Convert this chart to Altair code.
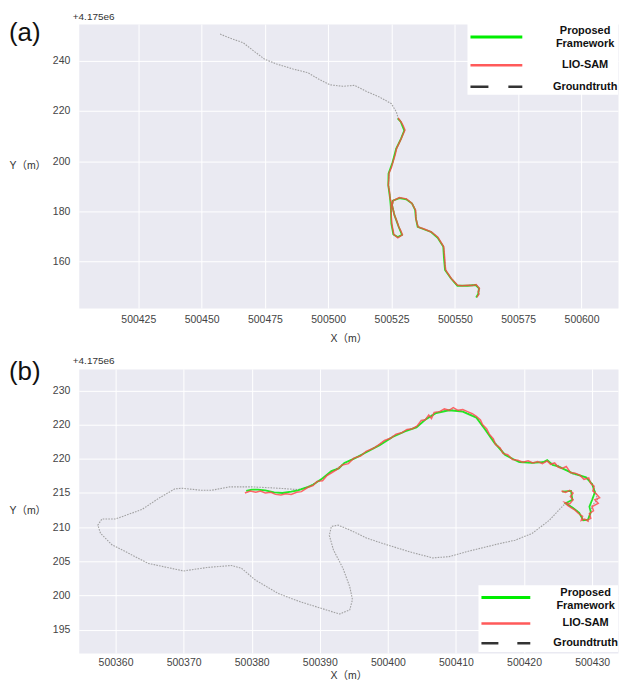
import altair as alt
import pandas as pd

# ---------------- data: panel (a) ----------------
A_X_DOMAIN = [500401.5, 500614.4]
A_Y_DOMAIN = [141.5, 254.6]
A_X_TICKS = [500425, 500450, 500475, 500500, 500525, 500550, 500575, 500600]
A_Y_TICKS = [160, 180, 200, 220, 240]

a_gt_x = [500457.3, 500461.2, 500466.5, 500470.4, 500475.0, 500479.6, 500486.1, 500492.0,
          500496.0, 500500.6, 500505.8, 500510.4, 500515.0, 500520.3, 500524.9, 500526.9,
          500527.6, 500528.8, 500530.1, 500528.8, 500526.9, 500525.5, 500523.9, 500523.8,
          500524.5, 500524.8, 500525.0, 500525.8, 500527.5, 500529.2, 500527.9, 500526.2,
          500525.3, 500525.6, 500528.1, 500530.8, 500533.1, 500534.4, 500534.7, 500535.4,
          500538.0, 500540.6, 500543.2, 500545.5, 500545.9, 500546.3, 500548.5, 500551.1,
          500555.0, 500558.3, 500559.6, 500559.4, 500558.6]
a_gt_y = [250.6, 249.0, 247.1, 244.0, 240.5, 238.7, 236.7, 235.2,
          232.8, 230.4, 229.8, 230.2, 227.8, 225.5, 222.9, 219.6,
          217.2, 215.6, 212.3, 209.0, 205.0, 199.7, 195.1, 190.5,
          185.2, 181.9, 175.2, 170.9, 169.6, 170.6, 173.9, 178.6,
          182.5, 184.2, 185.4, 184.9, 183.2, 180.6, 177.2, 173.9,
          172.9, 171.9, 169.6, 166.0, 161.3, 156.7, 153.4, 150.5,
          150.5, 150.8, 149.4, 147.1, 145.8]

a_prop_x = [500527.4, 500528.6, 500530.0, 500528.7, 500526.8, 500525.4, 500523.8, 500523.7,
            500524.4, 500524.7, 500524.9, 500525.7, 500527.5, 500529.1, 500527.8, 500526.1,
            500525.2, 500525.5, 500528.1, 500530.8, 500533.1, 500534.3, 500534.6, 500535.3,
            500538.0, 500540.6, 500543.2, 500545.4, 500545.7, 500546.1, 500548.4, 500551.0,
            500555.0, 500558.2, 500559.5, 500559.2, 500558.4]
a_prop_y = [217.0, 215.7, 212.2, 208.9, 204.9, 199.6, 195.0, 190.4,
            185.2, 181.9, 175.2, 170.8, 169.8, 170.7, 173.9, 178.6,
            182.5, 184.3, 185.3, 184.8, 183.1, 180.6, 177.2, 173.9,
            172.8, 171.8, 169.5, 166.0, 161.3, 156.7, 153.4, 150.4,
            150.4, 150.7, 149.4, 147.1, 145.7]

a_lio_x = [500527.6, 500528.3, 500528.9, 500529.6, 500530.3, 500529.6, 500528.9, 500528.0,
           500527.0, 500526.4, 500525.6, 500525.0, 500524.0, 500523.9, 500523.7, 500524.2,
           500524.4, 500524.9, 500524.8, 500524.9, 500525.1, 500525.5, 500525.9, 500527.5,
           500529.3, 500528.7, 500527.8, 500527.0, 500526.1, 500525.2, 500525.7, 500528.1,
           500530.9, 500533.0, 500534.5, 500534.6, 500535.5, 500537.9, 500540.7, 500543.3,
           500545.6, 500545.8, 500546.0, 500546.1, 500546.4, 500548.6, 500551.1, 500552.8,
           500555.0, 500557.0, 500558.4, 500559.7, 500559.2, 500559.5, 500558.7]
a_lio_y = [217.2, 216.2, 215.4, 214.1, 212.4, 210.8, 209.1, 207.2,
           205.1, 202.4, 199.8, 197.6, 195.2, 192.8, 190.4, 187.9,
           185.3, 183.6, 181.8, 178.5, 175.1, 172.9, 170.8, 169.5,
           170.7, 172.2, 174.0, 176.4, 178.7, 182.5, 184.3, 185.5,
           185.0, 183.3, 180.5, 177.1, 173.8, 173.0, 171.8, 169.7,
           165.9, 163.5, 161.2, 158.9, 156.6, 153.3, 150.6, 150.4,
           150.6, 150.5, 150.9, 149.3, 148.0, 147.1, 145.9]

# ---------------- data: panel (b) ----------------
B_X_DOMAIN = [500354.6, 500433.8]
B_Y_DOMAIN = [191.6, 233.15]
B_X_TICKS = [500360, 500370, 500380, 500390, 500400, 500410, 500420, 500430]
B_Y_TICKS = [195, 200, 205, 210, 215, 220, 225, 230]

b_gt_x = [500388.3, 500390.2, 500391.7, 500393.6, 500396.9, 500400.7, 500404.2, 500405.6,
          500407.1, 500409.0, 500411.0, 500413.0, 500414.4, 500415.9, 500417.3, 500419.3,
          500421.2, 500423.4, 500424.9, 500427.1, 500429.1, 500430.0, 500430.5, 500430.8,
          500430.0, 500429.8, 500429.4, 500428.7, 500428.1, 500427.1, 500426.1,
          500425.2, 500423.7, 500421.2, 500418.7, 500416.4, 500411.5, 500409.0, 500406.6,
          500403.2, 500399.3, 500396.9, 500394.4, 500392.7, 500391.7, 500391.4, 500392.0,
          500393.4, 500394.4, 500394.8, 500394.4, 500392.9, 500390.0, 500387.1, 500383.9,
          500380.5, 500378.5, 500377.0, 500373.4, 500370.0, 500364.8, 500361.9, 500359.5,
          500357.8, 500357.4, 500358.0, 500360.0, 500363.9, 500366.3, 500368.7, 500369.7,
          500372.6, 500374.1, 500376.8, 500380.0, 500383.9, 500386.8, 500388.3]
b_gt_y = [215.9, 216.9, 218.1, 219.3, 221.0, 223.3, 224.7, 225.9,
          226.8, 227.2, 227.0, 226.1, 224.2, 222.2, 220.5, 219.6,
          219.4, 219.6, 219.1, 217.8, 217.3, 216.4, 215.1, 214.0,
          213.2, 212.2, 211.1, 211.0, 212.1, 212.9, 213.5,
          212.6, 211.0, 209.1, 208.1, 207.6, 206.4, 205.7, 205.5,
          206.4, 207.6, 208.4, 209.6, 210.3, 210.1, 208.8, 206.7,
          204.0, 201.3, 199.4, 197.9, 197.3, 198.2, 199.1, 200.3,
          202.3, 204.0, 204.4, 204.1, 203.6, 204.7, 206.2, 207.4,
          209.1, 210.3, 211.2, 211.2, 212.6, 214.2, 215.6, 215.7,
          215.4, 215.4, 215.9, 215.9, 215.7, 215.5, 215.9]

b_prop_x = [500379.2, 500380.0, 500380.9, 500382.0, 500383.3, 500384.5, 500385.8, 500386.8,
            500388.3, 500389.0, 500390.2, 500391.7, 500392.8, 500393.6, 500395.2, 500396.9,
            500398.8, 500400.7, 500402.5, 500404.2, 500405.6, 500407.1, 500409.0, 500411.0,
            500413.0, 500414.2, 500415.6, 500417.2, 500418.3, 500419.3, 500421.2, 500422.8,
            500423.4, 500424.2, 500425.0, 500427.1, 500429.1, 500430.0, 500430.4, 500430.0,
            500429.6, 500429.8, 500429.4, 500428.7, 500428.1, 500427.1, 500426.1, 500427.1,
            500426.9, 500425.6]
b_prop_y = [215.3, 215.5, 215.5, 215.4, 215.1, 215.0, 215.2, 215.4,
            215.9, 216.2, 217.0, 218.2, 218.6, 219.4, 220.1, 221.0,
            222.0, 223.2, 224.0, 224.6, 225.8, 226.7, 227.1, 226.9,
            226.0, 224.4, 222.4, 220.6, 220.0, 219.5, 219.4, 219.5,
            219.8, 219.1, 218.9, 217.9, 217.3, 216.3, 215.1, 214.0,
            213.0, 212.2, 211.1, 211.0, 212.1, 212.9, 213.5, 214.0,
            215.3, 215.2]

b_lio_x = [500379.0, 500379.8, 500380.6, 500381.3, 500382.0, 500382.8, 500383.5, 500384.3,
           500385.0, 500385.8, 500386.6, 500387.3, 500388.2, 500389.0, 500389.6, 500390.4,
           500391.0, 500391.8, 500392.5, 500393.3, 500394.2, 500395.0, 500396.0, 500396.8,
           500397.8, 500398.6, 500399.5, 500400.4, 500401.2, 500402.0, 500402.8, 500403.6,
           500404.3, 500404.9, 500405.5, 500406.0, 500406.4, 500406.8, 500407.6, 500408.3,
           500409.0, 500409.6, 500410.3, 500411.0, 500411.7, 500412.4, 500413.0, 500413.6,
           500413.9, 500414.5, 500414.9, 500415.5, 500415.8, 500416.5, 500416.9, 500417.6,
           500418.3, 500419.1, 500419.8, 500420.6, 500421.3, 500422.0, 500422.7, 500423.4,
           500423.9, 500424.5, 500425.0, 500425.6, 500426.2, 500426.8, 500427.5, 500428.2,
           500428.8, 500429.5, 500429.8, 500430.3, 500430.1, 500430.6, 500431.1, 500430.4,
           500430.9, 500430.0, 500430.2, 500429.6, 500429.8, 500429.2, 500429.5, 500428.9,
           500428.4, 500428.6, 500428.0, 500427.5, 500427.0, 500426.4, 500426.0, 500426.7,
           500427.2, 500426.8, 500427.2, 500426.7, 500426.1, 500425.5]
b_lio_y = [215.0, 215.3, 215.1, 215.3, 215.0, 215.1, 214.8, 214.7,
           214.9, 214.8, 215.1, 215.2, 215.8, 216.1, 216.7, 216.8,
           217.5, 218.0, 218.4, 219.1, 219.3, 220.1, 220.4, 221.1,
           221.5, 222.0, 222.7, 223.0, 223.6, 223.8, 224.3, 224.4,
           224.8, 225.6, 225.7, 226.4, 225.9, 226.8, 226.9, 227.3,
           227.1, 227.5, 227.1, 227.2, 226.9, 226.6, 226.2, 225.7,
           225.0, 224.4, 223.6, 222.9, 222.1, 221.6, 220.8, 220.6,
           219.9, 219.8, 219.5, 219.7, 219.4, 219.6, 219.3, 219.7,
           219.2, 219.4, 218.8, 218.6, 218.9, 218.0, 217.9, 217.6,
           217.0, 217.2, 216.4, 216.0, 215.3, 214.9, 214.3, 214.0,
           213.5, 213.0, 212.4, 212.0, 211.3, 211.0, 210.8, 211.2,
           211.0, 211.6, 212.0, 212.5, 212.8, 213.2, 213.6, 213.4,
           214.0, 214.5, 215.0, 215.4, 215.1, 215.3]

LEGEND_LABELS = ["Proposed", "Framework", "LIO-SAM", "Groundtruth"]
OFFSET_TEXT = "+4.175e6"
X_TITLE = "X（m）"
Y_TITLE = "Y（m）"

# ---------------- styling ----------------
W, H = 541, 285
FONT = "Liberation Sans"
TITLE_FONT = "Liberation Sans, Noto Sans CJK SC"
GREEN = "#19e619"
RED = "#ff4545"
GT_COLOR = "#999999"
ONE = pd.DataFrame({"k": [0]})


def panel(tag, xdom, ydom, xticks, yticks, gt, prop, lio, leg, y_label_expr=None,
          x_label_pad=6, x_title_pad=9):
    yaxis_kw = dict(values=yticks, title=Y_TITLE, titleAngle=0, titleAlign="left",
                    titleBaseline="middle", titleX=-70, titleY=142, labelPadding=9)
    if y_label_expr:
        yaxis_kw["labelExpr"] = y_label_expr
    xenc = alt.X("x:Q", scale=alt.Scale(domain=xdom, nice=False, zero=False),
                 axis=alt.Axis(values=xticks, format="d", title=X_TITLE,
                               labelPadding=x_label_pad, titlePadding=x_title_pad,
                               labelFlush=False))
    yenc = alt.Y("y:Q", scale=alt.Scale(domain=ydom, nice=False, zero=False),
                 axis=alt.Axis(**yaxis_kw))

    def line(xs, ys, color, width, opacity=1.0, dash=None):
        df = pd.DataFrame({"x": xs, "y": ys, "i": list(range(len(xs)))})
        kw = dict(color=color, strokeWidth=width, opacity=opacity, clip=True)
        if dash:
            kw["strokeDash"] = dash
        return alt.Chart(df).mark_line(**kw).encode(x=xenc, y=yenc, order="i:Q")

    layers = [
        line(gt[0], gt[1], GT_COLOR, 1.1, 0.9, [1.6, 1.2]),
        line(prop[0], prop[1], GREEN, 1.8, 0.95),
        line(lio[0], lio[1], RED, 1.5, 0.8),
    ]
    # custom legend box
    bx0, by0, by1, lx0, lx1, tx, ys = leg
    layers.append(alt.Chart(ONE).mark_rect(color="white").encode(
        x=alt.value(bx0), x2=alt.value(W), y=alt.value(by0), y2=alt.value(by1)))
    layers.append(alt.Chart(ONE).mark_rule(color="#00ee00", strokeWidth=3).encode(
        x=alt.value(lx0), x2=alt.value(lx1), y=alt.value(ys[1])))
    layers.append(alt.Chart(ONE).mark_rule(color="#ff5a5a", strokeWidth=2.5).encode(
        x=alt.value(lx0), x2=alt.value(lx1), y=alt.value(ys[2])))
    dash_len = round((lx1 - lx0) * 0.35)
    layers.append(alt.Chart(ONE).mark_rule(color="#333333", strokeWidth=2.5,
                                           strokeDash=[dash_len, dash_len + 2]).encode(
        x=alt.value(lx0), x2=alt.value(lx1), y=alt.value(ys[3])))
    for lab, yy in zip(LEGEND_LABELS, [ys[0], ys[0] + 12.7, ys[2], ys[3]]):
        layers.append(alt.Chart(ONE).mark_text(
            text=lab, font=FONT, fontSize=11, fontWeight="bold", color="#111111",
            align="center", baseline="middle").encode(x=alt.value(tx), y=alt.value(yy)))
    # panel tag and offset text
    layers.append(alt.Chart(ONE).mark_text(
        text=tag, font=FONT, fontSize=26, color="#111111", align="left",
        baseline="middle").encode(x=alt.value(-70), y=alt.value(9 if tag == "(a)" else 3)))
    layers.append(alt.Chart(ONE).mark_text(
        text=OFFSET_TEXT, font=FONT, fontSize=10, color="#333333", align="left",
        baseline="middle").encode(x=alt.value(-6), y=alt.value(-7 if tag == "(a)" else -8)))
    return alt.layer(*layers).properties(width=W, height=H)


pa = panel("(a)", A_X_DOMAIN, A_Y_DOMAIN, A_X_TICKS, A_Y_TICKS,
           (a_gt_x, a_gt_y), (a_prop_x, a_prop_y), (a_lio_x, a_lio_y),
           (390, 0, 71, 393, 445, 508, [7, 13, 41.3, 63]))
pb = panel("(b)", B_X_DOMAIN, B_Y_DOMAIN, B_X_TICKS, B_Y_TICKS,
           (b_gt_x, b_gt_y), (b_prop_x, b_prop_y), (b_lio_x, b_lio_y),
           (401, 217, 284, 404, 453, 508.5, [224.7, 229.3, 255.3, 275.3]),
           y_label_expr="datum.value == 225 ? '220' : datum.label",
           x_label_pad=5, x_title_pad=2)

chart = (
    alt.vconcat(pa, pb, spacing=61, bounds="flush")
    .resolve_scale(x="independent", y="independent")
    .properties(padding={"left": 8, "top": 10, "right": 0, "bottom": 0})
    .configure(background="white")
    .configure_view(fill="#eaeaf2", stroke="transparent")
    .configure_axis(grid=True, gridColor="white", gridWidth=1, domain=False, ticks=False,
                    tickSize=0, labelFont=FONT, labelFontSize=10.5, labelColor="#444444",
                    titleFont=TITLE_FONT, titleFontSize=10.5, titleColor="#333333",
                    titleFontWeight="normal")
)

chart.save("out.html", embed_options={"renderer": "svg", "actions": False})
